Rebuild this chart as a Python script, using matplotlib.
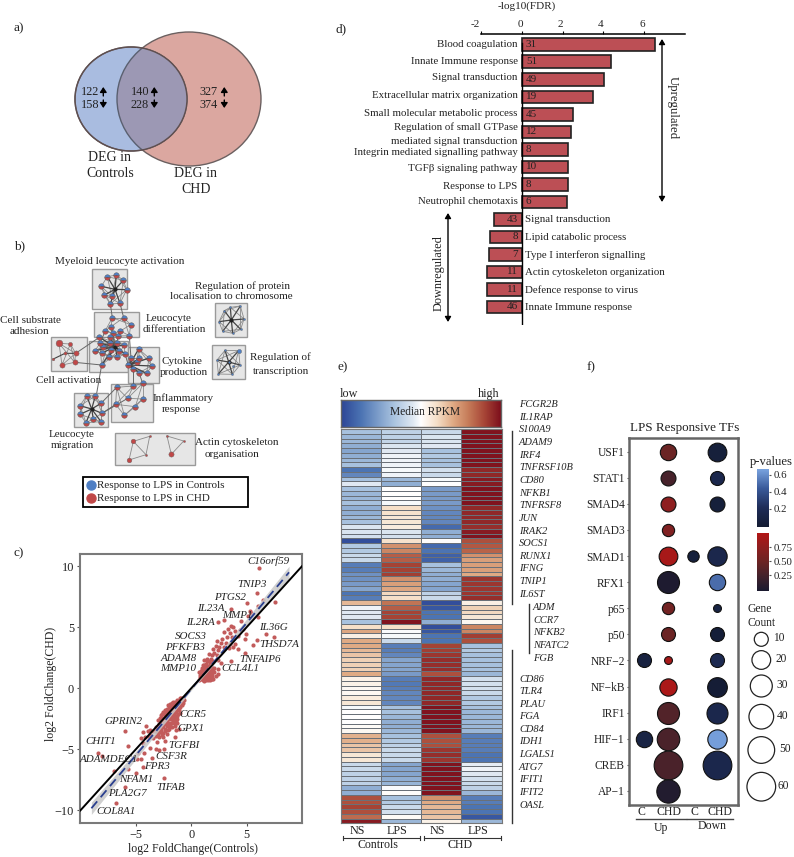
import numpy as np
import matplotlib
matplotlib.use('Agg')
import matplotlib.pyplot as plt
from matplotlib.colors import LinearSegmentedColormap
from matplotlib.collections import LineCollection
from matplotlib.patches import Ellipse, Rectangle

plt.rcParams['font.family'] = ['Liberation Serif', 'DejaVu Serif']

W, H = 794, 857

myeloid = [(322,140),(349,135),(370,151),(380,179),(360,220),(331,222),(313,195),(304,169),(335,199)]
myeloid_hub = (345,178)
differentiation = [(337,263),(371,263),(392,284),(388,317),(361,303),(355,318),(340,310),(316,302),(333,290)]
activation = [(298,322),(330,322),(372,345),(375,372),(352,382),(328,380),(305,370),(285,362),(300,340),(330,340),(352,338),(310,352),(332,360),(358,362),(305,405)]
activation_hub = (345,350)
cytokine = [(416,357),(447,384),(455,408),(440,430),(417,428),(400,418),(385,405),(393,385),(418,385),(410,395)]
cytokine_hub = (388,405)
inflammatory = [(428,460),(428,507),(406,530),(373,556),(347,523),(350,472),(400,468),(383,505)]
migration = [(260,497),(286,498),(303,520),(306,550),(303,575),(280,567),(258,578),(240,553),(240,527)]
migration_hub = (275,537)
substrate = [(177,340),(211,342),(227,370),(224,397),(186,405),(160,387),(195,370)]
substrate_size = [6.5,4,5,5,5,2.5,3]
actin_a = [(400,634),(449,619),(438,674),(387,690)]
actin_a_size = [4.5,2,2,4.5]
actin_b = [(501,618),(551,633),(514,673)]
actin_b_size = [2,2,5]
protein = [(691,232),(721,228),(732,267),(722,298),(698,310),(668,304),(657,275),(673,242)]
protein_hub = (694,270)
transcription = [(675,361),(716,362),(720,405),(697,433),(655,432),(651,390)]
transcription_inner = [(686,396),(700,408)]
between = [((331,222),(337,263)),((360,220),(371,263)),((316,302),(300,340)),((388,317),(393,385)),
           ((375,372),(385,405)),((227,370),(298,322)),((224,397),(305,405)),((306,550),(347,523)),
           ((303,520),(350,472)),((417,428),(428,460)),((400,418),(400,468)),((305,405),(290,490)),
           ((340,310),(345,350)),((361,303),(345,350)),((333,290),(345,350)),((306,550),(383,505))]

# ---- panel c
scatter_x = [6.15,5.9,5.05,3.55,6.5,7.57,6.0,5.3,5.4,5.1,6.0,4.5,2.46,2.94,6.76,7.5,5.9,5.55,4.9,4.95,4.83,4.26,3.55,
             3.6,3.8,3.3,4.0,3.0,3.5,4.4,4.7,4.2,3.7,3.2,2.8,2.3,2.7,3.1,3.5,2.2,2.5,3.0,3.4,3.8,4.0,2.0,2.4,2.1,1.6,1.9,2.3,1.75,1.4,1.7,2.0,2.4,2.7,1.2,1.5,1.8,2.1,2.4,
             0.7,0.8,0.8,0.75,0.85,0.9,0.95,1.0,1.0,1.0,1.05,1.1,1.1,1.15,1.2,1.2,1.25,1.3,1.3,1.3,1.35,1.4,1.4,1.45,1.5,1.5,1.55,1.6,1.6,1.65,1.7,1.75,1.8,1.85,1.9,2.0,2.0,1.05,1.3,1.2,1.45,1.6,2.2,2.4,0.95,1.7,1.15,
             -0.7,-0.8,-0.9,-0.95,-1.0,-1.1,-0.85,-1.0,-1.15,-1.2,-1.25,-1.3,-1.4,-1.1,-1.35,-1.5,-1.5,-1.55,-1.6,-1.65,-1.2,-1.4,-1.75,-1.75,-1.8,-1.85,-1.9,-1.5,-1.25,-2.0,-2.0,-1.7,-1.95,-2.1,-2.2,-2.15,-1.3,-1.55,-1.8,-2.05,-2.3,-2.35,-2.5,-2.55,-2.7,-1.45,-1.7,-1.95,-2.2,-2.45,-2.7,-2.9,-1.1,
             -2.1,-2.4,-2.65,-2.9,-3.15,-2.2,-2.5,-2.8,-3.1,-3.4,-3.7,-3.9,-4.1,-3.6,-3.2,-2.9,-2.5,-3.4,-3.8,-4.2,-4.5,-4.3,
             -5.95,-5.67,-1.35,-1.44,-2.4,-3.05,-3.2,-3.75,-4.3,-4.26,-4.8,-4.56,-4.9,-4.3,-5.67,-5.0,-6.97,-8.38,-8.05,-5.98,-6.82,-2.43,-3.57,-2.9,-2.46]
scatter_y = [9.82,7.78,6.97,6.5,7.24,7.05,6.72,6.37,6.18,5.96,5.82,5.5,5.47,5.58,4.41,4.19,3.97,3.51,4.05,4.46,2.91,3.2,2.23,
             5.1,5.0,4.9,4.7,4.6,4.5,4.8,4.9,4.3,4.2,4.2,4.0,3.9,3.7,3.7,3.6,3.5,3.4,3.4,3.3,3.4,3.6,3.2,3.1,2.9,2.8,2.7,2.7,2.4,2.2,2.1,2.2,2.3,2.1,1.9,1.8,1.8,1.7,1.6,
             0.7,0.9,1.1,1.3,1.4,0.75,1.0,1.2,1.5,0.9,0.7,1.7,1.35,1.05,0.8,1.55,1.25,0.95,1.7,0.65,1.4,1.1,0.85,1.6,1.3,0.7,1.0,1.5,0.85,1.2,0.65,1.0,1.35,0.8,1.1,0.75,1.4,1.9,2.0,2.3,2.4,2.2,1.0,1.2,1.65,1.65,0.6,
             -0.8,-1.0,-0.8,-1.2,-0.95,-1.1,-1.4,-1.5,-1.3,-1.0,-1.6,-1.2,-1.4,-1.8,-1.9,-1.1,-1.65,-1.3,-1.9,-1.5,-2.1,-2.3,-1.2,-1.75,-2.1,-1.45,-1.8,-2.5,-2.5,-1.6,-2.2,-2.5,-2.5,-1.9,-1.7,-2.3,-2.8,-2.85,-2.8,-2.8,-2.6,-2.1,-1.95,-2.4,-2.2,-3.1,-3.15,-3.1,-3.05,-2.85,-2.7,-2.9,-3.3,
             -3.4,-3.3,-3.2,-3.3,-3.2,-3.7,-3.65,-3.6,-3.55,-3.5,-3.45,-3.5,-3.1,-3.8,-3.9,-4.0,-4.0,-4.1,-4.0,-4.0,-4.1,-3.6,
             -3.5,-4.7,-3.4,-4.0,-4.3,-4.4,-5.0,-4.9,-4.5,-5.3,-5.3,-5.8,-5.8,-6.4,-6.64,-6.9,-6.75,-5.33,-5.5,-8.05,-9.36,-7.37,-5.74,-5.06,-4.93]
# the two blobs on the diagonal, extra points
blob_x = [-0.65,-0.75,-0.9,-1.05,-1.05,-1.25,-1.3,-1.45,-1.45,-1.6,-1.6,-1.7,-1.7,-1.9,-1.95,-2.05,-2.1,-2.25,-2.25,-2.4,-2.4,-2.6,-2.6,-2.8,-2.95,-1.15,-1.05,-1.25,-1.4,-1.6,-1.65,-1.85,-1.9,-2.15,-2.3,-2.0,-2.55,-2.8,-3.0,-3.25,-3.0,-2.65,-2.35,-2.7,-1.55,-1.35,-1.8,-2.0,
          0.9,1.1,1.2,1.35,1.45,1.55,1.6,1.7,1.75,1.1,0.85,1.25,1.55,1.05,1.4,1.9,2.1,1.85]
blob_y = [-0.95,-1.2,-1.05,-1.25,-0.75,-0.95,-1.45,-1.2,-1.75,-1.15,-1.65,-1.35,-2.0,-1.25,-2.05,-1.4,-2.05,-2.0,-2.45,-1.8,-2.35,-2.1,-2.6,-2.4,-2.6,-1.55,-2.0,-2.3,-2.65,-2.3,-2.7,-2.35,-2.95,-2.7,-2.9,-3.3,-3.1,-3.1,-3.05,-3.5,-3.75,-3.8,-3.5,-3.45,-2.05,-1.65,-1.55,-1.85,
          1.25,0.95,1.15,0.75,1.35,0.8,1.05,1.4,0.8,1.5,1.1,1.8,1.75,1.25,1.55,0.9,1.3,1.6]
fit_x = [-9.0, 0.0, 8.83]
fit_y = [-9.82, -0.07, 9.5]
fit_band = [0.5, 0.1, 0.5]
identity_x = [-10, 10]
identity_y = [-10, 10]
gene_names_c = ['C16orf59','TNIP3','PTGS2','IL23A','MMP1','IL2RA','IL36G','SOCS3','THSD7A','PFKFB3','TNFAIP6','ADAM8','MMP10','CCL4L1',
                'CCR5','GPRIN2','GPX1','CHIT1','TGFBI','CSF3R','ADAMDEC1','FPR3','NFAM1','TIFAB','PLA2G7','COL8A1']
gene_pos_c = [(805,93),(756,163),(690,201),(631,235),(712,255),(600,277),(820,292),(573,320),(838,343),(554,352),(781,389),(536,385),(534,416),(720,416),
              (580,553),(370,574),(572,595),(302,634),(552,646),(513,680),(327,690),(472,710),(407,747),(511,772),(383,790),(348,844)]

# ---- panel d
up_terms = ['Blood coagulation','Innate Immune response','Signal transduction','Extracellular matrix organization',
            'Small molecular metabolic process','Regulation of small GTPase','mediated signal transduction',
            'Integrin mediated signalling pathway','TGFβ signaling pathway','Response to LPS','Neutrophil chemotaxis']
up_term_y = [133,185,232,287,339,381,423,458,505,558,604]
up_fdr = [6.52,4.38,4.03,3.48,2.52,2.43,2.28,2.25,2.25,2.21]
up_count = [31,51,49,19,45,12,8,10,8,6]
down_terms = ['Signal transduction','Lipid catabolic process','Type I interferon signalling',
              'Actin cytoskeleton organization','Defence response to virus','Innate Immune response']
down_fdr = [-1.34,-1.57,-1.62,-1.69,-1.69,-1.70]
down_count = [43,8,7,11,11,46]
fdr_ticks = [-2, 0, 2, 4, 6]

# ---- panel e, one list per heatmap column, rows top to bottom
ctrl_ns = [-.35,-.4,-.4,-.45,-.5,-.45,-.4,-.35,-.75,-.65,-.35,-.1,-.35,-.4,-.4,-.35,-.45,-.45,-.4,-.35,-.12,-.12,-.15,-.95,-.3,-.3,-.2,-.2,-.7,-.7,-.6,-.6,-.55,-.5,-.75,-.7,
           .35,-.05,-.1,-.1,-.35,.2,.42,.1,.4,.4,.35,.3,.25,.25,.25,.4,.08,.08,.04,.04,.12,.15,-.03,0,0,0,.03,.05,.38,.38,.3,.3,.15,.15,-.2,-.2,-.25,-.25,-.25,-.45,-.45,.75,.75,.8,.75,.65,.95]
ctrl_lps = [-.25,-.25,-.22,-.12,-.1,-.05,-.05,-.05,-.03,-.05,-.4,-.45,0,0,0,-.03,.2,.18,.15,.15,.12,-.12,-.15,.18,.5,.55,.7,.7,.8,.8,.82,.5,.45,.42,.22,.2,
            .62,.7,.8,.8,.98,.2,-.02,-.03,-.2,-.7,-.7,-.65,-.5,-.5,-.5,-.55,-.7,-.72,-.7,-.65,-.65,-.65,-.35,-.35,-.4,-.45,-.45,-.4,-.35,-.3,-.25,-.2,-.2,-.2,-.5,-.5,-.5,-.45,-.42,-.02,.02,-.35,-.3,-.2,-.15,.03,-.4]
chd_ns = [-.2,-.12,-.12,-.1,-.35,-.3,-.35,-.35,-.15,-.2,-.03,0,-.55,-.55,-.55,-.55,-.6,-.65,-.65,-.65,-.8,-.45,-.45,.02,-.8,-.75,-.85,-.85,-.35,-.4,-.45,-.45,-.5,-.5,-.25,-.2,
          -.95,-.9,-.75,-.75,-.45,-.95,-.9,-.75,-.75,.8,.82,.85,.88,.88,.88,.75,.9,.9,.9,.9,.9,.9,.98,.98,.98,.98,.98,.98,.75,.75,.75,.85,.88,.85,.98,.98,.98,.98,.98,.98,.98,.5,.4,.35,.35,.3,.08]
chd_lps = [.98,.98,.98,.98,.98,.98,.98,.98,.9,.9,.95,.95,.98,.98,.98,.98,.9,.9,.9,.9,.88,.95,.98,.75,.72,.68,.5,.45,.45,.45,.4,.85,.85,.85,.85,.88,
           .1,.25,.22,.15,.05,.55,.55,.82,.75,-.35,-.3,-.35,-.35,-.35,-.35,-.4,-.15,-.15,-.15,-.2,-.3,-.3,-.35,-.4,-.4,-.4,-.4,-.4,-.7,-.7,-.7,-.7,-.75,-.75,-.08,-.05,-.1,-.15,-.2,-.25,-.4,-.7,-.7,-.75,-.75,-.9,-.4]
genes_a = ['FCGR2B','IL1RAP','S100A9','ADAM9','IRF4','TNFRSF10B','CD80','NFKB1','TNFRSF8','JUN','IRAK2','SOCS1','RUNX1','IFNG','TNIP1','IL6ST']
genes_b = ['ADM','CCR7','NFKB2','NFATC2','FGB']
genes_c = ['CD86','TLR4','PLAU','FGA','CD84','IDH1','LGALS1','ATG7','IFIT1','IFIT2','OASL']

# ---- panel f
tf_names = ['USF1','STAT1','SMAD4','SMAD3','SMAD1','RFX1','p65','p50','NRF−2','NF−kB','IRF1','HIF−1','CREB','AP−1']
up_c_count = [None,None,None,None,None,None,None,None,10,None,None,15,None,None]
up_c_p = [None,None,None,None,None,None,None,None,.08,None,None,.1,None,None]
up_chd_count = [15,12,12,8,20,30,8,10,3,17,30,32,60,35]
up_chd_p = [.5,.28,.75,.65,.92,.03,.55,.5,.92,.95,.35,.3,.3,.05]
down_c_count = [None,None,None,None,7,None,None,None,None,None,None,None,None,None]
down_c_p = [None,None,None,None,.05,None,None,None,None,None,None,None,None,None]
down_chd_count = [20,10,12,None,22,15,3,10,10,23,27,22,60,None]
down_chd_p = [.05,.15,.05,None,.15,.5,.1,.03,.18,.02,.15,.65,.15,None]
size_counts = [2,10,20,30,40,50,60]
size_px = [7,14,18.7,22,24.7,26.7,28.7]
legend_counts = [10,20,30,40,50,60]

heat_cmap = LinearSegmentedColormap.from_list('rpkm', [(0,'#2d4596'),(.12,'#4a72b2'),(.33,'#a9c3df'),(.45,'#dfe8f2'),(.5,'#ffffff'),
                                                       (.6,'#f5dfc8'),(.7,'#e0ab85'),(.8,'#c57a58'),(.9,'#a64436'),(1,'#7d0f1c')])
red_cmap = LinearSegmentedColormap.from_list('redp', ['#1a1a30','#42222c','#6b2424','#8e1f20','#b21616'])
blue_cmap = LinearSegmentedColormap.from_list('bluep', ['#141c33','#1f2d58','#3a5a9a','#7aa4e0'])
BLUE, RED = '#4f7fc4', '#c04848'


def axes_px(x0, y0, x1, y1, **kw):
    return fig.add_axes([x0 / W, 1 - y1 / H, (x1 - x0) / W, (y1 - y0) / H], **kw)


def txt(x, y, s, size=9, ha='center', **kw):
    page.text(x, y, s, fontsize=size, ha=ha, va='center', color='#222222', **kw)


fig = plt.figure(figsize=(W / 100, H / 100), dpi=100)

# page axes in pixel coordinates, used for the free text and drawn panels
page = fig.add_axes([0, 0, 1, 1], zorder=5)
page.set_xlim(0, W)
page.set_ylim(H, 0)
page.axis('off')
page.patch.set_alpha(0)

txt(14, 28, 'a)', 9.5, ha='left')
txt(14, 246, 'b)', 9.5, ha='left')
txt(14, 553, 'c)', 9.5, ha='left')
txt(335, 29, 'd)', 9.5, ha='left')
txt(337, 367, 'e)', 9.5, ha='left')
txt(587, 367, 'f)', 9.5, ha='left')

# ---- a) venn
red_e = Ellipse((189, 99), 144, 134, fc='#dba7a0', ec='#6b6060', lw=1)
blue_e = Ellipse((131, 99), 112, 104, fc='#a9bce0', ec='#6b5f60', lw=1)
page.add_patch(red_e)
page.add_patch(blue_e)
overlap = Ellipse((189, 99), 144, 134, fc='#9c98b4', ec='#5a6070', lw=1)
page.add_patch(overlap)
overlap.set_clip_path(blue_e)
page.add_patch(Ellipse((131, 99), 112, 104, fc='none', ec='#5e4f50', lw=1))
for x, ax_x, up, down in [(90, 103.3, '122', '158'), (140, 154.3, '140', '228'), (209, 224.3, '327', '374')]:
    txt(x, 92, up, 8.8)
    txt(x, 105, down, 8.8)
    page.annotate('', xy=(ax_x, 87), xytext=(ax_x, 96), arrowprops=dict(arrowstyle='-|>,head_width=0.2,head_length=0.3', color='k', lw=1, shrinkA=0, shrinkB=0))
    page.annotate('', xy=(ax_x, 108), xytext=(ax_x, 100), arrowprops=dict(arrowstyle='-|>,head_width=0.2,head_length=0.3', color='k', lw=1, shrinkA=0, shrinkB=0))
txt(110, 157, 'DEG in', 10)
txt(110, 173, 'Controls', 10)
txt(196, 173, 'DEG in', 10)
txt(196, 189, 'CHD', 10)

# ---- b) network
def zx(p):
    return p[0] / 3, 230 + p[1] / 3


for x0, y0, x1, y1 in [(277,118,382,236),(283,246,417,322),(152,322,260,422),(268,333,383,427),(383,350,478,460),
                       (332,462,458,577),(223,490,325,592),(346,609,584,706),(644,220,742,322),(637,346,734,448)]:
    page.add_patch(Rectangle((x0 / 3, 230 + y0 / 3), (x1 - x0) / 3, (y1 - y0) / 3, fc='#e6e6e6', ec='#9a9a9a', lw=1, zorder=1))


def ring(nodes, hub=None, color='#8a8a8a', lw=0.6):
    segs = [(zx(nodes[i]), zx(nodes[(i + 2) % len(nodes)])) for i in range(len(nodes))]
    segs += [(zx(nodes[i]), zx(nodes[(i + 1) % len(nodes)])) for i in range(len(nodes))]
    page.add_collection(LineCollection(segs, colors=color, linewidths=lw, zorder=2))
    if hub:
        page.add_collection(LineCollection([(zx(hub), zx(n)) for n in nodes], colors='#444444', linewidths=0.9, zorder=2))
        page.plot(*zx(hub), 'o', color='#222222', ms=2, zorder=3)


def split_nodes(nodes, ms=4.0):
    xs = [zx(n)[0] for n in nodes]
    ys = [zx(n)[1] for n in nodes]
    page.plot(xs, ys, 'o', ls='none', fillstyle='top', mfc=BLUE, mfcalt=RED, mec='#555555', mew=0.3, ms=ms, zorder=4)


def plain_nodes(nodes, sizes, color):
    for n, s in zip(nodes, sizes):
        page.plot(*zx(n), 'o', color=color, mec='#666666', mew=0.3, ms=s * 0.75, zorder=4)


for nodes, hub in [(myeloid, myeloid_hub), (differentiation, None), (activation, activation_hub), (cytokine, cytokine_hub),
                   (inflammatory, None), (migration, migration_hub), (protein, protein_hub), (transcription, transcription_inner[0])]:
    ring(nodes, hub)
    if nodes is not protein and nodes is not transcription:
        split_nodes(nodes)
page.add_collection(LineCollection([(zx(a), zx(b)) for a, b in between], colors='#666666', linewidths=0.7, zorder=2))
ring(substrate[:5], None)
page.plot([zx(substrate[5])[0], zx(substrate[6])[0], zx(substrate[2])[0]], [zx(substrate[5])[1], zx(substrate[6])[1], zx(substrate[2])[1]], color='#444444', lw=0.8, zorder=2)
plain_nodes(substrate, substrate_size, RED)
for nodes, sizes in [(actin_a, actin_a_size), (actin_b, actin_b_size)]:
    closed = nodes + nodes[:1]
    page.plot([zx(n)[0] for n in closed], [zx(n)[1] for n in closed], color='#8a8a8a', lw=0.6, zorder=2)
    plain_nodes(nodes, sizes, RED)
page.plot([zx(actin_a[0])[0], zx(actin_a[2])[0]], [zx(actin_a[0])[1], zx(actin_a[2])[1]], color='#8a8a8a', lw=0.6, zorder=2)
plain_nodes(protein, [2] * len(protein), BLUE)
plain_nodes(transcription, [2, 4, 2, 2, 2, 2], BLUE)
plain_nodes(transcription_inner, [2, 2], BLUE)

for zpos, s in [((360,96),'Myeloid leucocyte activation'),((727,167),'Regulation of protein'),((695,200),'localisation to chromosome'),
                ((507,265),'Leucocyte'),((523,298),'differentiation'),((92,271),'Cell substrate'),((88,304),'adhesion'),
                ((545,394),'Cytokine'),((552,428),'production'),((205,450),'Cell activation'),((840,381),'Regulation of'),
                ((842,423),'transcription'),((550,505),'Inflammatory'),((544,539),'response'),((215,613),'Leucocyte'),
                ((217,647),'migration'),((711,636),'Actin cytoskeleton'),((695,673),'organisation')]:
    txt(*zx(zpos), s, 8.0)
page.add_patch(Rectangle((248 / 3, 230 + 741 / 3), 495 / 3, 91 / 3, fc='white', ec='k', lw=1.3, zorder=3))
page.plot(*zx((273,765)), 'o', color=BLUE, ms=6.5, zorder=4)
page.plot(*zx((273,804)), 'o', color=RED, ms=6.5, zorder=4)
txt(*zx((290,765)), 'Response to LPS in Controls', 7.9, ha='left', zorder=4)
txt(*zx((290,804)), 'Response to LPS in CHD', 7.9, ha='left', zorder=4)

# ---- c) scatter
ax_c = axes_px(80.3, 554, 302, 822.7)
ax_c.set_xlim(-10, 10)
ax_c.set_ylim(-11, 11)
fx = np.array(fit_x)
fy = np.array(fit_y)
fb = np.array(fit_band)
ax_c.scatter(scatter_x + blob_x, scatter_y + blob_y, s=9, color='#c25b5b', lw=0, zorder=2)
ax_c.fill_between(fx, fy - fb, fy + fb, color='#c8c8c8', lw=0, alpha=0.85, zorder=3)
ax_c.plot(fx, fy, color='#2a3f8f', lw=1.3, ls=(0, (5, 3)), zorder=4)
ax_c.plot(identity_x, identity_y, color='k', lw=1.4, zorder=5)
ax_c.set_xticks([-5, 0, 5])
ax_c.set_yticks([-10, -5, 0, 5, 10])
ax_c.tick_params(length=2.5, color='#555555', labelsize=8.8, labelcolor='#222222', pad=2)
for sp in ax_c.spines.values():
    sp.set_color('#7a7a7a')
    sp.set_linewidth(1.5)
for name, (zpx, zpy) in zip(gene_names_c, gene_pos_c):
    txt(zpx / 3, 530 + zpy / 3, name, 7.9, style='italic')
txt(193, 849, 'log2 FoldChange(Controls)', 8.5)
txt(51, 684, 'log2 FoldChange(CHD)', 8.5, rotation=90)

# ---- d) bars
ax_d = axes_px(481, 34.3, 685, 325)
n_up = len(up_fdr)
rows = np.arange(n_up + len(down_fdr))
ax_d.set_xlim(-2, 8)
ax_d.set_ylim(16.03, -0.57)
ax_d.barh(rows, up_fdr + down_fdr, height=0.72, color='#bc4f55', edgecolor='#222222', lw=1.2, zorder=2)
ax_d.axvline(0, color='k', lw=1, ymax=0.97, zorder=3)
for sp in ['left', 'right', 'bottom']:
    ax_d.spines[sp].set_visible(False)
ax_d.spines['top'].set_linewidth(1.1)
ax_d.set_yticks([])
ax_d.xaxis.tick_top()
ax_d.set_xticks(fdr_ticks)
ax_d.set_xticklabels([])
ax_d.tick_params(axis='x', length=2.5)
for tick, x in zip(fdr_ticks, [475, 520, 560, 600.5, 642]):
    txt(x, 24, str(tick), 8)
for r, c in zip(rows[:n_up], up_count):
    ax_d.text(0.2, r, str(c), ha='left', va='center', fontsize=8, color='#222222', zorder=4)
for r, c in zip(rows[n_up:], down_count):
    ax_d.text(-0.2, r, str(c), ha='right', va='center', fontsize=8, color='#222222', zorder=4)
txt(526.7, 6, '-log10(FDR)', 8)
for term, zy in zip(up_terms, up_term_y):
    txt(340 + 533 / 3, zy / 3, term, 7.85, ha='right')
for r, term in zip(rows[n_up:], down_terms):
    txt(340 + 556 / 3, 44.3 + 17.55 * r, term, 7.85, ha='left')
arrow = dict(arrowstyle='<|-|>,head_width=0.18,head_length=0.3', color='k', lw=1, shrinkA=0, shrinkB=0)
page.annotate('', xy=(662, 39), xytext=(662, 202), arrowprops=arrow)
page.annotate('', xy=(448, 213), xytext=(448, 322), arrowprops=arrow)
txt(673, 108, 'Upregulated', 9.2, rotation=270)
txt(439, 273, 'Downregulated', 8.8, rotation=90)

# ---- e) heatmap
ax_e = axes_px(340.7, 429, 501.7, 823.3)
heat = np.array([ctrl_ns, ctrl_lps, chd_ns, chd_lps]).T
ax_e.pcolormesh(heat, cmap=heat_cmap, vmin=-1, vmax=1, edgecolors='#6a7078', linewidth=0.5)
ax_e.set_ylim(heat.shape[0], 0)
ax_e.set_xticks([])
ax_e.set_yticks([])
for sp in ax_e.spines.values():
    sp.set_color('#777777')
    sp.set_linewidth(0.8)
ax_bar = axes_px(340.5, 400, 500.5, 426.7)
ax_bar.imshow(np.linspace(-1, 1, 256)[None, :], cmap=heat_cmap, aspect='auto')
ax_bar.set_xticks([])
ax_bar.set_yticks([])
for sp in ax_bar.spines.values():
    sp.set_color('#666666')
    sp.set_linewidth(1)
txt(425, 412, 'Median RPKM', 8.3)
txt(349, 393.5, 'low', 8.7)
txt(489, 393.5, 'high', 8.7)
for i, g in enumerate(genes_a):
    txt(519, 404.5 + 12.65 * i, g, 7.5, ha='left', style='italic')
for i, g in enumerate(genes_b):
    txt(533, 607.5 + 12.65 * i, g, 7.5, ha='left', style='italic')
for i, g in enumerate(genes_c):
    txt(519, 679 + 12.6 * i, g, 7.5, ha='left', style='italic')
page.plot([511.7, 511.7], [431, 604], color='#333333', lw=1)
page.plot([529, 529], [604, 653], color='#333333', lw=1)
page.plot([511.7, 511.7], [650, 823], color='#333333', lw=1)
for x, s in [(357.7, 'NS'), (396.7, 'LPS'), (437.7, 'NS'), (478, 'LPS')]:
    txt(x, 830.7, s, 8.7)
for x0, x1, xc, s in [(343, 420, 378, 'Controls'), (424, 501, 460, 'CHD')]:
    page.plot([x0, x1], [838, 838], color='#333333', lw=0.8)
    page.plot([x0, x0], [836.3, 839.7], color='#333333', lw=0.8)
    page.plot([x1, x1], [836.3, 839.7], color='#333333', lw=0.8)
    txt(xc, 845, s, 8.6)

# ---- f) dots
ax_f = axes_px(629, 437.7, 738.3, 805.3)
ax_f.set_xlim(-0.61, 3.86)
ax_f.set_ylim(13.55, -0.536)
dot_cols = [(up_c_count, up_c_p, blue_cmap, 0.67), (up_chd_count, up_chd_p, red_cmap, 1.0),
            (down_c_count, down_c_p, blue_cmap, 0.67), (down_chd_count, down_chd_p, blue_cmap, 0.67)]
for col, (counts, pvals, cmap, vmax) in enumerate(dot_cols):
    for row, (c, p) in enumerate(zip(counts, pvals)):
        if c is None:
            continue
        d = np.interp(c, size_counts, size_px) * 0.72
        ax_f.scatter(col, row, s=d ** 2, color=cmap(p / vmax), edgecolor='#111111', lw=0.8, zorder=3, clip_on=False)
ax_f.set_xticks([])
ax_f.set_yticks(range(len(tf_names)))
ax_f.set_yticklabels(tf_names)
ax_f.tick_params(axis='y', length=1.5, pad=1.5, labelsize=8.3, labelcolor='#222222', color='#555555')
for sp in ax_f.spines.values():
    sp.set_color('#666666')
    sp.set_linewidth(1.8)
txt(684.3, 427.7, 'LPS Responsive TFs', 9.4)
for x, s in [(641, 'C'), (669, 'CHD'), (694, 'C'), (720, 'CHD')]:
    txt(x, 812, s, 8.5)
page.plot([635.7, 686], [819.3, 819.3], color='#444444', lw=1)
page.plot([687.3, 732.7], [819.3, 819.3], color='#444444', lw=1)
txt(661, 827.7, 'Up', 8.5)
txt(711.7, 826.3, 'Down', 8.5)

ax_pb = axes_px(757.3, 469, 769, 526.7)
ax_pb.imshow(np.linspace(1, 0, 256)[:, None], cmap=blue_cmap, aspect='auto', extent=[0, 1, -0.013, 0.67])
ax_pr = axes_px(757.3, 533.3, 769, 591)
ax_pr.imshow(np.linspace(1, 0, 256)[:, None], cmap=red_cmap, aspect='auto', extent=[0, 1, -0.03, 1.0])
for a, ticks, labels in [(ax_pb, [.2, .4, .6], ['0.2', '0.4', '0.6']), (ax_pr, [.25, .5, .75], ['0.25', '0.50', '0.75'])]:
    a.set_xticks([])
    a.yaxis.tick_right()
    a.set_yticks(ticks)
    a.set_yticklabels(labels)
    a.tick_params(axis='y', length=1.5, pad=2, labelsize=7.8, labelcolor='#222222', color='#555555')
    for sp in a.spines.values():
        sp.set_visible(False)
txt(771, 462, 'p-values', 9.1)
txt(747, 609, 'Gene', 8.3, ha='left')
txt(747, 623, 'Count', 8.3, ha='left')
legend_y = [639.3, 660, 686, 716.7, 750, 786.7]
legend_label_x = [773, 775, 776, 777, 779, 778]
for c, ly, lx in zip(legend_counts, legend_y, legend_label_x):
    d = np.interp(c, size_counts, size_px)
    page.add_patch(Ellipse((761.3, ly), d, d, fc='white', ec='#222222', lw=0.9))
    txt(lx, ly - 1, str(c), 8.3, ha='left')

fig.savefig('out.png', dpi=100)
